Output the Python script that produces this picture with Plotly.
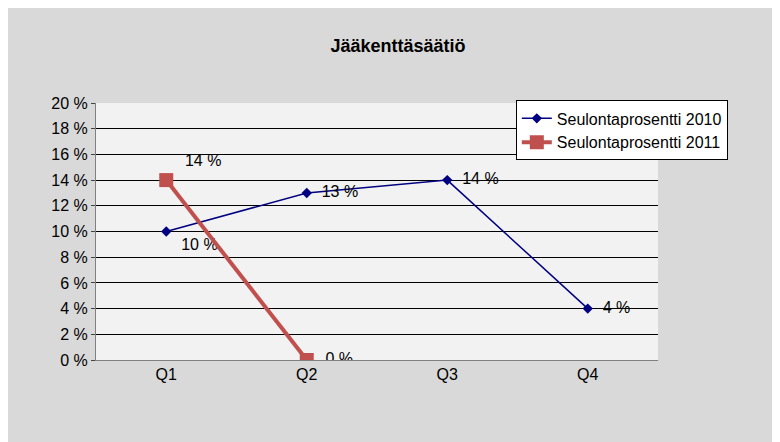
import plotly.graph_objects as go

categories = ["Q1", "Q2", "Q3", "Q4"]
s2010 = [10, 13, 14, 4]
s2011 = [14, 0]
yticks = list(range(0, 21, 2))

fig = go.Figure()
fig.add_trace(go.Scatter(x=[0, 1, 2, 3], y=s2010, name="Seulontaprosentti 2010",
    mode="lines+markers+text", line=dict(color="#000080", width=1.5),
    marker=dict(symbol="diamond", size=8, color="#000080"),
    text=["  " + f"{v} %" for v in s2010], textposition="bottom right",
    textfont=dict(size=16, color="black")))
fig.data[0].textposition = ["bottom right", "middle right", "middle right", "middle right"]
fig.add_trace(go.Scatter(x=[0, 1], y=s2011, name="Seulontaprosentti 2011",
    mode="lines+markers+text", line=dict(color="#c0504d", width=4),
    marker=dict(symbol="square", size=14, color="#c0504d"),
    text=["  " + f"{v} %" for v in s2011], textposition=["top right", "middle right"],
    textfont=dict(size=16, color="black")))

fig.update_layout(
    width=780, height=442,
    paper_bgcolor="#d9d9d9", plot_bgcolor="#f2f2f2",
    margin=dict(l=88, r=130, t=95, b=90, autoexpand=False),
    title=dict(text="<b>Jääkenttäsäätiö</b>", x=0.5, xanchor="center", y=0.93,
               font=dict(size=18, color="black", family="Liberation Sans")),
    font=dict(family="Liberation Sans", size=16, color="black"),
    xaxis=dict(range=[-0.5, 3.5], tickvals=[0, 1, 2, 3], ticktext=categories,
               showgrid=False, showline=True, linecolor="#808080", zeroline=False),
    yaxis=dict(range=[0, 20], tickvals=yticks, ticktext=[f"{v} %" for v in yticks],
               showgrid=True, gridcolor="black", gridwidth=1, showline=True,
               linecolor="#808080", zeroline=False, ticks="outside", ticklen=4),
    legend=dict(x=0.747, y=1.01, xanchor="left", yanchor="top", bgcolor="white",
                bordercolor="black", borderwidth=1, font=dict(size=16)),
)
fig.write_html("out.html")
